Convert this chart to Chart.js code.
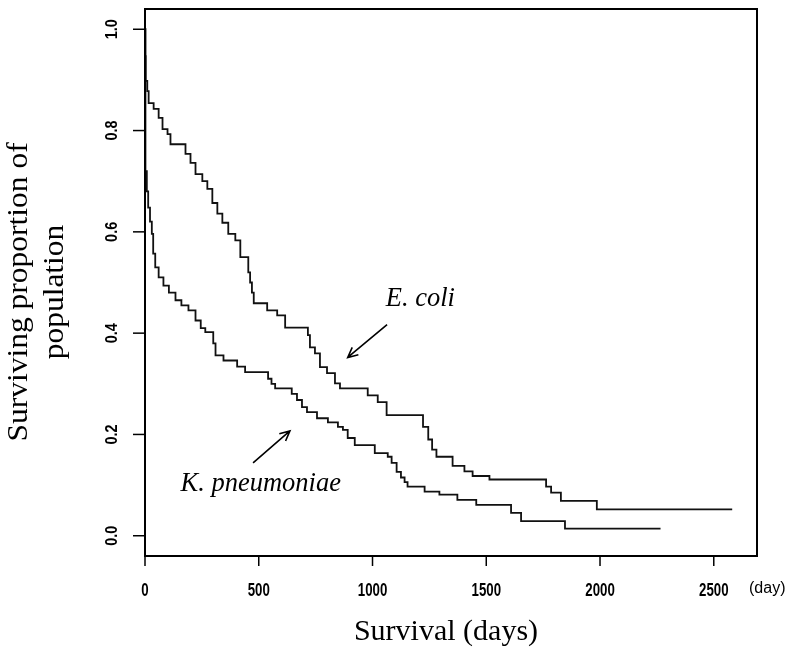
<!DOCTYPE html>
<html>
<head>
<meta charset="utf-8">
<script src="https://cdn.jsdelivr.net/npm/chart.js@4.4.0/dist/chart.umd.min.js"></script>
<style>
  html, body { margin: 0; padding: 0; background: #fff; }
  #wrap { width: 793px; height: 649px; }
</style>
</head>
<body>
<div id="wrap"><canvas id="chart" width="793" height="649"></canvas></div>
<script>
// Kaplan-Meier steps: day of each drop, proportion after it.
const ecoliDays = [0, 1, 3, 10, 16, 38, 60, 77, 99, 112, 178, 200, 222, 252, 274, 296, 318, 340, 366, 397,
  419, 454, 462, 470, 478, 537, 581, 616, 716, 725, 747, 769, 800, 835, 857, 979, 1023, 1062, 1222, 1245,
  1262, 1281, 1352, 1404, 1440, 1514, 1763, 1785, 1828, 1986, 2581];
const ecoliSurv = [1.0, 0.947, 0.898, 0.878, 0.854, 0.843, 0.825, 0.803, 0.793, 0.773, 0.754, 0.736, 0.714, 0.700, 0.685, 0.657, 0.636, 0.618, 0.596, 0.583,
  0.550, 0.520, 0.500, 0.480, 0.459, 0.445, 0.435, 0.411, 0.396, 0.372, 0.360, 0.333, 0.321, 0.301, 0.291, 0.277, 0.264, 0.238, 0.215, 0.190,
  0.170, 0.156, 0.138, 0.127, 0.118, 0.111, 0.097, 0.085, 0.069, 0.052, 0.052];

const kpDays = [0, 2, 8, 14, 22, 30, 36, 45, 60, 81, 105, 134, 160, 191, 222, 245, 265, 300, 310, 345,
  405, 440, 541, 556, 572, 645, 668, 690, 712, 756, 804, 848, 870, 891, 922, 1010, 1067, 1084, 1106, 1125,
  1141, 1154, 1229, 1294, 1373, 1456, 1609, 1653, 1846, 2266];
const kpSurv = [1.0, 0.72, 0.68, 0.648, 0.62, 0.596, 0.557, 0.53, 0.51, 0.494, 0.48, 0.465, 0.455, 0.445, 0.425, 0.41, 0.402, 0.38, 0.356, 0.346,
  0.334, 0.323, 0.31, 0.30, 0.291, 0.28, 0.268, 0.254, 0.244, 0.232, 0.224, 0.215, 0.209, 0.193, 0.179, 0.163, 0.156, 0.144, 0.126, 0.115,
  0.106, 0.097, 0.087, 0.081, 0.071, 0.061, 0.045, 0.029, 0.014, 0.014];

const xTicks = [0, 500, 1000, 1500, 2000, 2500];
const yTicks = [0, 0.2, 0.4, 0.6, 0.8, 1.0];

// Labels and arrows, in data units (day, proportion).
const ecoliLabel = { text: 'E. coli', x: 1058, y: 0.453 };
const ecoliArrow = [[1064, 0.417], [891, 0.352]];
const kpLabel = { text: 'K. pneumoniae', x: 156, y: 0.089 };
const kpArrow = [[475, 0.144], [637, 0.207]];

const toXY = (days, surv) => days.map((d, i) => ({ x: d, y: surv[i] }));

function arrow(ctx, x0, y0, x1, y1) {
  const ang = Math.atan2(y1 - y0, x1 - x0);
  const head = 11;
  ctx.beginPath();
  ctx.moveTo(x0, y0);
  ctx.lineTo(x1, y1);
  ctx.moveTo(x1 - head * Math.cos(ang - 0.45), y1 - head * Math.sin(ang - 0.45));
  ctx.lineTo(x1, y1);
  ctx.lineTo(x1 - head * Math.cos(ang + 0.45), y1 - head * Math.sin(ang + 0.45));
  ctx.stroke();
}

// R-style box, ticks and titles drawn from the chart's own scales.
const rAxes = {
  id: 'rAxes',
  afterDraw(chart) {
    const { ctx, chartArea: a, scales: { x, y } } = chart;
    ctx.save();
    ctx.strokeStyle = '#000';
    ctx.fillStyle = '#000';
    ctx.lineWidth = 2;
    ctx.strokeRect(a.left, a.top, a.right - a.left, a.bottom - a.top);

    ctx.lineWidth = 1.5;
    ctx.font = 'bold 17px "Liberation Sans", Arial, sans-serif';
    ctx.textAlign = 'center';
    ctx.textBaseline = 'middle';
    yTicks.forEach(v => {
      const py = y.getPixelForValue(v);
      ctx.beginPath(); ctx.moveTo(a.left - 12, py); ctx.lineTo(a.left, py); ctx.stroke();
      ctx.save();
      ctx.translate(a.left - 32, py);
      ctx.rotate(-Math.PI / 2);
      ctx.scale(0.85, 0.95);
      ctx.fillText(v.toFixed(1), 0, 0);
      ctx.restore();
    });
    xTicks.forEach(v => {
      const px = x.getPixelForValue(v);
      ctx.beginPath(); ctx.moveTo(px, a.bottom); ctx.lineTo(px, a.bottom + 10); ctx.stroke();
      ctx.save();
      ctx.translate(px, a.bottom + 35);
      ctx.scale(0.78, 1.05);
      ctx.fillText(String(v), 0, 0);
      ctx.restore();
    });
    ctx.font = '16px "Liberation Sans", Arial, sans-serif';
    ctx.textAlign = 'left';
    ctx.fillText('(day)', 749, a.bottom + 33);

    // axis titles
    ctx.font = '30px "Liberation Serif", "Times New Roman", serif';
    ctx.textAlign = 'center';
    ctx.fillText('Survival (days)', 446, 632);
    ctx.save();
    ctx.translate(19, 292);
    ctx.rotate(-Math.PI / 2);
    ctx.scale(1.05, 1);
    ctx.fillText('Surviving proportion of', 0, 0);
    ctx.fillText('population', 0, 36);
    ctx.restore();

    // series labels and arrows
    ctx.font = 'italic 26.5px "Liberation Serif", "Times New Roman", serif';
    ctx.textAlign = 'left';
    ctx.textBaseline = 'alphabetic';
    ctx.fillText(ecoliLabel.text, x.getPixelForValue(ecoliLabel.x), y.getPixelForValue(ecoliLabel.y));
    ctx.fillText(kpLabel.text, x.getPixelForValue(kpLabel.x), y.getPixelForValue(kpLabel.y));
    ctx.lineWidth = 1.6;
    [ecoliArrow, kpArrow].forEach(([p0, p1]) => {
      arrow(ctx, x.getPixelForValue(p0[0]), y.getPixelForValue(p0[1]),
        x.getPixelForValue(p1[0]), y.getPixelForValue(p1[1]));
    });
    ctx.restore();
  }
};

const lineStyle = {
  borderColor: '#111',
  borderWidth: 1.8,
  pointRadius: 0,
  stepped: 'before',
  fill: false,
  tension: 0
};

new Chart(document.getElementById('chart'), {
  type: 'line',
  data: {
    datasets: [
      { label: 'E. coli', data: toXY(ecoliDays, ecoliSurv), ...lineStyle },
      { label: 'K. pneumoniae', data: toXY(kpDays, kpSurv), ...lineStyle }
    ]
  },
  options: {
    responsive: false,
    animation: false,
    devicePixelRatio: 1,
    layout: { padding: { left: 145, top: 9, right: 36, bottom: 93 } },
    plugins: { legend: { display: false }, tooltip: { enabled: false } },
    scales: {
      x: { type: 'linear', min: 0, max: 2690, display: false },
      y: { type: 'linear', min: -0.04, max: 1.04, display: false }
    }
  },
  plugins: [rAxes]
});
</script>
</body>
</html>
